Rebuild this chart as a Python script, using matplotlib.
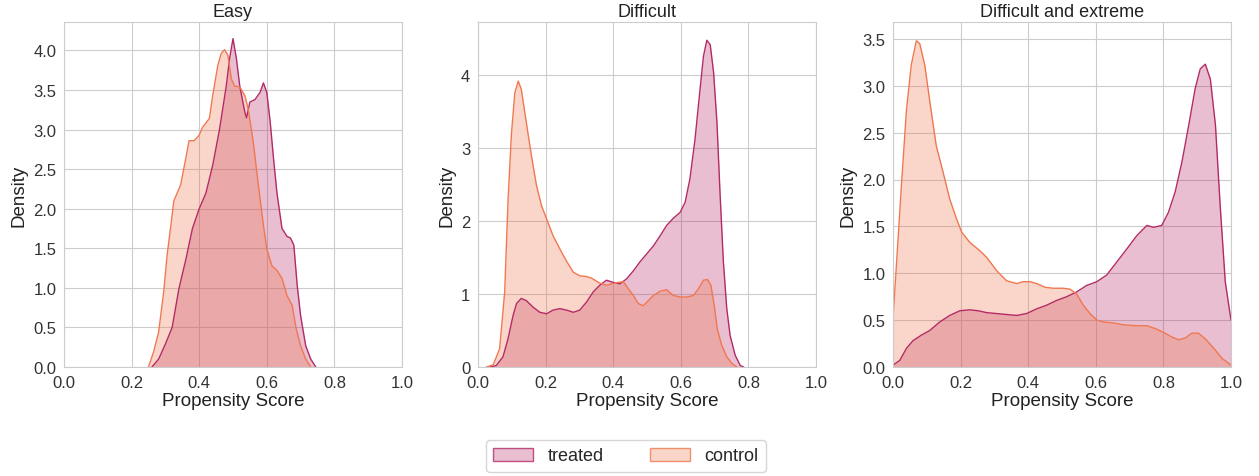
import numpy as np
import matplotlib
matplotlib.use("Agg")
import matplotlib.pyplot as plt
import seaborn as sns
from matplotlib.patches import Patch

# density curves (x = propensity score, y = density)
easy_treated_x = [0.26, 0.28, 0.30, 0.32, 0.34, 0.36, 0.38, 0.40, 0.42, 0.44, 0.46, 0.48, 0.49, 0.50,
                  0.51, 0.52, 0.535, 0.54, 0.55, 0.565, 0.58, 0.59, 0.60, 0.61, 0.62, 0.63, 0.645,
                  0.66, 0.67, 0.68, 0.69, 0.70, 0.715, 0.73, 0.745]
easy_treated_y = [0.0, 0.1, 0.29, 0.5, 0.99, 1.35, 1.75, 2.0, 2.2, 2.55, 3.0, 3.55, 3.9, 4.15,
                  3.9, 3.55, 3.22, 3.15, 3.35, 3.38, 3.47, 3.59, 3.47, 3.1, 2.63, 2.2, 1.75,
                  1.65, 1.63, 1.54, 1.03, 0.65, 0.27, 0.1, 0.0]
easy_control_x = [0.25, 0.265, 0.28, 0.295, 0.305, 0.315, 0.325, 0.345, 0.36, 0.37, 0.385, 0.40,
                  0.41, 0.43, 0.44, 0.455, 0.465, 0.475, 0.485, 0.495, 0.505, 0.52, 0.535, 0.545,
                  0.56, 0.575, 0.59, 0.60, 0.615, 0.63, 0.645, 0.66, 0.675, 0.687, 0.70, 0.715, 0.73]
easy_control_y = [0.0, 0.19, 0.44, 0.95, 1.41, 1.75, 2.1, 2.3, 2.63, 2.86, 2.86, 2.93,
                  3.03, 3.14, 3.43, 3.81, 3.96, 4.01, 3.94, 3.64, 3.55, 3.54, 3.43, 3.26,
                  2.84, 2.3, 1.79, 1.49, 1.28, 1.22, 1.12, 0.9, 0.78, 0.48, 0.27, 0.1, 0.0]

diff_treated_x = [0.035, 0.054, 0.074, 0.089, 0.104, 0.114, 0.128, 0.143, 0.163, 0.183, 0.203, 0.222,
                  0.242, 0.262, 0.282, 0.301, 0.321, 0.341, 0.36, 0.38, 0.40, 0.42, 0.44, 0.46,
                  0.479, 0.499, 0.519, 0.539, 0.558, 0.578, 0.598, 0.613, 0.627, 0.642, 0.657,
                  0.667, 0.677, 0.687, 0.697, 0.707, 0.716, 0.726, 0.736, 0.746, 0.761, 0.776, 0.786]
diff_treated_y = [0.0, 0.02, 0.14, 0.39, 0.71, 0.87, 0.94, 0.91, 0.82, 0.75, 0.73, 0.78,
                  0.8, 0.78, 0.75, 0.78, 0.89, 1.03, 1.12, 1.19, 1.16, 1.14, 1.21, 1.32,
                  1.44, 1.55, 1.66, 1.8, 1.94, 2.04, 2.12, 2.26, 2.58, 3.12, 3.81,
                  4.26, 4.48, 4.42, 4.04, 3.35, 2.39, 1.44, 0.8, 0.43, 0.16, 0.02, 0.0]
diff_control_x = [0.025, 0.045, 0.064, 0.079, 0.089, 0.099, 0.109, 0.119, 0.128, 0.143, 0.158, 0.173,
                  0.188, 0.203, 0.222, 0.242, 0.262, 0.282, 0.301, 0.321, 0.335, 0.36, 0.38, 0.395,
                  0.415, 0.43, 0.445, 0.46, 0.474, 0.489, 0.504, 0.519, 0.539, 0.558, 0.578, 0.598,
                  0.618, 0.637, 0.652, 0.667, 0.679, 0.689, 0.699, 0.708, 0.721, 0.736, 0.751, 0.766]
diff_control_y = [0.0, 0.03, 0.25, 1.03, 2.3, 3.2, 3.76, 3.92, 3.81, 3.35, 2.9, 2.49,
                  2.21, 2.03, 1.8, 1.62, 1.45, 1.3, 1.25, 1.24, 1.22, 1.15, 1.12, 1.14,
                  1.16, 1.17, 1.07, 0.98, 0.87, 0.84, 0.91, 0.98, 1.04, 1.06, 0.98, 0.96,
                  0.96, 0.98, 1.07, 1.19, 1.2, 1.12, 0.84, 0.52, 0.3, 0.14, 0.05, 0.0]

ext_treated_x = [0.0, 0.02, 0.04, 0.059, 0.084, 0.109, 0.138, 0.168, 0.198, 0.227, 0.252, 0.277,
                 0.306, 0.336, 0.366, 0.395, 0.425, 0.455, 0.484, 0.514, 0.543, 0.573, 0.603,
                 0.632, 0.662, 0.692, 0.721, 0.751, 0.771, 0.795, 0.815, 0.835, 0.855, 0.875,
                 0.894, 0.909, 0.924, 0.939, 0.954, 0.968, 0.983, 1.0]
ext_treated_y = [0.02, 0.07, 0.2, 0.28, 0.34, 0.39, 0.48, 0.55, 0.6, 0.61, 0.6, 0.58,
                 0.57, 0.56, 0.55, 0.57, 0.62, 0.66, 0.71, 0.75, 0.8, 0.87, 0.91,
                 0.98, 1.12, 1.26, 1.4, 1.51, 1.49, 1.51, 1.65, 1.87, 2.19, 2.58,
                 2.97, 3.18, 3.23, 3.07, 2.58, 1.72, 0.91, 0.5]
ext_control_x = [0.0, 0.01, 0.025, 0.04, 0.054, 0.069, 0.079, 0.094, 0.109, 0.128, 0.148, 0.168,
                 0.188, 0.203, 0.227, 0.257, 0.277, 0.306, 0.336, 0.366, 0.385, 0.405, 0.425,
                 0.45, 0.474, 0.504, 0.524, 0.543, 0.563, 0.583, 0.603, 0.623, 0.652, 0.682,
                 0.721, 0.751, 0.776, 0.80, 0.825, 0.845, 0.865, 0.884, 0.904, 0.924, 0.949,
                 0.974, 1.0]
ext_control_y = [0.52, 1.08, 1.94, 2.75, 3.22, 3.48, 3.45, 3.22, 2.83, 2.36, 2.08, 1.79,
                 1.58, 1.44, 1.33, 1.24, 1.17, 1.03, 0.92, 0.89, 0.91, 0.91, 0.89,
                 0.85, 0.84, 0.84, 0.83, 0.78, 0.66, 0.57, 0.5, 0.48, 0.47, 0.45,
                 0.44, 0.44, 0.41, 0.37, 0.32, 0.29, 0.31, 0.36, 0.36, 0.3, 0.2,
                 0.09, 0.02]

titles = ["Easy", "Difficult", "Difficult and extreme"]
ylims = [4.36, 4.73, 3.68]
yticks = [np.arange(0, 4.01, 0.5), [0, 1, 2, 3, 4], np.arange(0, 3.51, 0.5)]
panels = [(easy_treated_x, easy_treated_y, easy_control_x, easy_control_y),
          (diff_treated_x, diff_treated_y, diff_control_x, diff_control_y),
          (ext_treated_x, ext_treated_y, ext_control_x, ext_control_y)]

treated_color = "#b42a66"
control_color = "#f07850"

sns.set_style("whitegrid")
plt.rcParams['font.family'] = ['Liberation Sans', 'DejaVu Sans']

fig = plt.figure(figsize=(12.59, 4.77), dpi=100)
lefts = [64, 478, 893]
for i, left in enumerate(lefts):
    ax = fig.add_axes([left / 1259, 1 - 368 / 477, 338 / 1259, 345 / 477])
    tx, ty, cx, cy = panels[i]
    ax.fill_between(tx, ty, color=treated_color, alpha=0.3, lw=0)
    ax.plot(tx, ty, color=treated_color, lw=1)
    ax.fill_between(cx, cy, color=control_color, alpha=0.3, lw=0)
    ax.plot(cx, cy, color=control_color, lw=1)
    ax.set_xlim(0, 1)
    ax.set_ylim(0, ylims[i])
    ax.set_xticks(np.arange(0, 1.01, 0.2))
    ax.set_yticks(yticks[i])
    if i == 1:
        ax.set_yticklabels([str(v) for v in yticks[i]])
    ax.tick_params(labelsize=12, colors="#333333", pad=2)
    ax.set_title(titles[i], fontsize=13, color="#222222", pad=4)
    ax.set_xlabel("Propensity Score", fontsize=13.5, color="#222222", labelpad=2)
    ax.set_ylabel("Density", fontsize=13.5, color="#222222", labelpad=4)
    for s in ax.spines.values():
        s.set_color("#cccccc")

handles = []
for c, lab in zip([treated_color, control_color], ["treated", "control"]):
    handles.append(Patch(facecolor=matplotlib.colors.to_rgba(c, 0.3),
                         edgecolor=matplotlib.colors.to_rgba(c, 0.8), lw=1, label=lab))
fig.legend(handles=handles, loc="center", bbox_to_anchor=(626 / 1259, 1 - 457 / 477),
           ncol=2, fontsize=13, frameon=True, columnspacing=2.6, handlelength=2.2)

fig.savefig("out.png", dpi=100)
